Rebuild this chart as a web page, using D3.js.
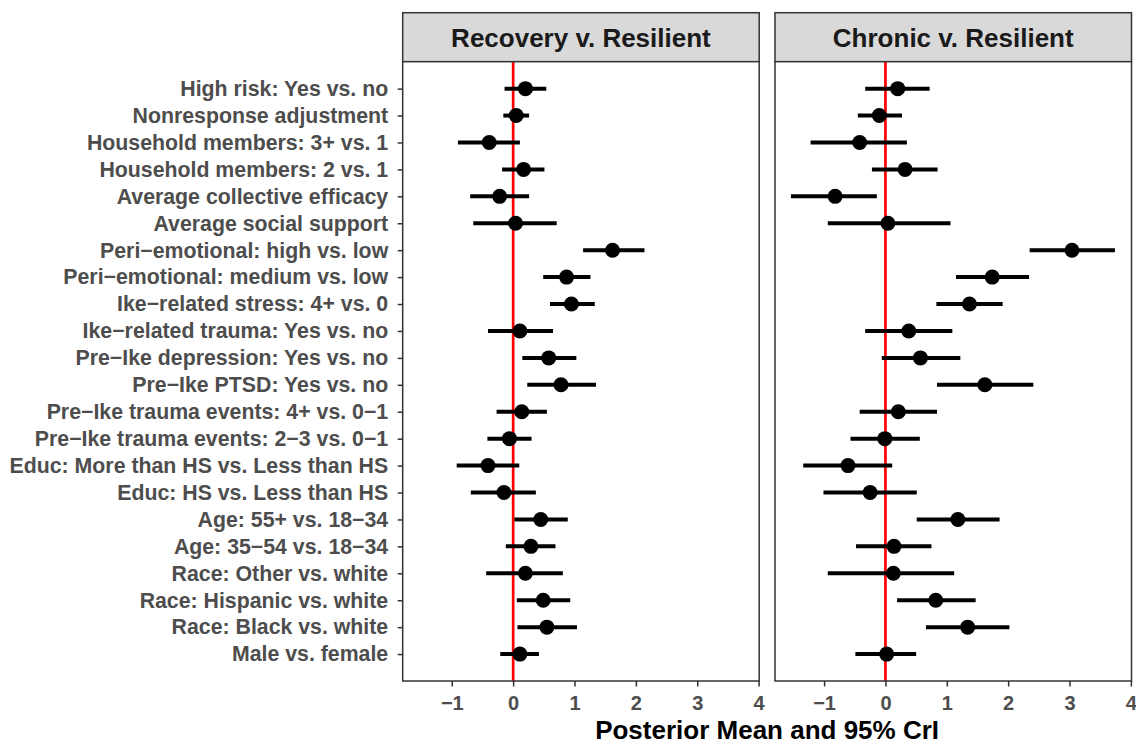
<!DOCTYPE html>
<html>
<head>
<meta charset="utf-8">
<script src="https://cdn.jsdelivr.net/npm/d3@7"></script>
<style>
  body { margin: 0; background: #fff; }
  svg text { font-family: "Liberation Sans", Arial, sans-serif; font-weight: bold; }
</style>
</head>
<body>
<div id="chart"></div>
<script>
// row labels, top to bottom
var labels = ["High risk: Yes vs. no", "Nonresponse adjustment", "Household members: 3+ vs. 1",
  "Household members: 2 vs. 1", "Average collective efficacy", "Average social support",
  "Peri\u2212emotional: high vs. low", "Peri\u2212emotional: medium vs. low", "Ike\u2212related stress: 4+ vs. 0",
  "Ike\u2212related trauma: Yes vs. no", "Pre\u2212Ike depression: Yes vs. no", "Pre\u2212Ike PTSD: Yes vs. no",
  "Pre\u2212Ike trauma events: 4+ vs. 0\u22121", "Pre\u2212Ike trauma events: 2\u22123 vs. 0\u22121",
  "Educ: More than HS vs. Less than HS", "Educ: HS vs. Less than HS", "Age: 55+ vs. 18\u221234",
  "Age: 35\u221254 vs. 18\u221234", "Race: Other vs. white", "Race: Hispanic vs. white",
  "Race: Black vs. white", "Male vs. female"];

var panels = ["Recovery v. Resilient", "Chronic v. Resilient"];

// Recovery v. Resilient
var recMean = [0.20, 0.05, -0.39, 0.17, -0.22, 0.04, 1.62, 0.87, 0.95, 0.11, 0.58, 0.78, 0.14, -0.06, -0.41, -0.15, 0.45, 0.29, 0.20, 0.49, 0.55, 0.11];
var recLo   = [-0.14, -0.16, -0.90, -0.18, -0.70, -0.65, 1.14, 0.49, 0.60, -0.41, 0.15, 0.23, -0.27, -0.42, -0.92, -0.69, 0.02, -0.12, -0.44, 0.06, 0.07, -0.21];
var recHi   = [0.54, 0.26, 0.11, 0.51, 0.26, 0.71, 2.14, 1.26, 1.33, 0.65, 1.03, 1.35, 0.55, 0.30, 0.10, 0.37, 0.89, 0.69, 0.81, 0.93, 1.04, 0.42];

// Chronic v. Resilient
var chrMean = [0.20, -0.10, -0.42, 0.32, -0.82, 0.04, 3.04, 1.74, 1.37, 0.38, 0.57, 1.62, 0.21, -0.01, -0.61, -0.25, 1.18, 0.14, 0.13, 0.82, 1.34, 0.02];
var chrLo   = [-0.33, -0.45, -1.22, -0.22, -1.54, -0.94, 2.35, 1.15, 0.83, -0.33, -0.06, 0.84, -0.42, -0.57, -1.34, -1.01, 0.51, -0.48, -0.94, 0.19, 0.66, -0.49];
var chrHi   = [0.72, 0.27, 0.35, 0.85, -0.14, 1.06, 3.74, 2.34, 1.91, 1.09, 1.22, 2.41, 0.84, 0.56, 0.11, 0.51, 1.86, 0.75, 1.12, 1.47, 2.02, 0.50];

var xTicks = [-1, 0, 1, 2, 3, 4];
var xTitle = "Posterior Mean and 95% CrI";

var width = 1136, height = 745;
var svg = d3.select("#chart").append("svg")
    .attr("width", width)
    .attr("height", height);

var panelLeft = [402.7, 775], panelW = 356.5;
var stripTop = 12.7, plotTop = 61.7, plotBottom = 681;

var y = d3.scalePoint()
    .domain(labels)
    .range([plotTop, plotBottom])
    .padding(1);

var series = [
  {mean: recMean, lo: recLo, hi: recHi},
  {mean: chrMean, lo: chrLo, hi: chrHi}
];

series.forEach(function(s, p) {
  var x = d3.scaleLinear().domain([-1.8, 4.01]).range([panelLeft[p], panelLeft[p] + panelW]);
  var g = svg.append("g");

  // strip
  g.append("rect")
    .attr("x", panelLeft[p]).attr("y", stripTop)
    .attr("width", panelW).attr("height", plotTop - stripTop)
    .style("fill", "#d9d9d9").style("stroke", "#333").style("stroke-width", 1.5);
  g.append("text")
    .attr("x", panelLeft[p] + panelW / 2).attr("y", (stripTop + plotTop) / 2)
    .attr("dy", ".36em")
    .style("text-anchor", "middle")
    .style("font-size", "26px")
    .style("fill", "#1a1a1a")
    .text(panels[p]);

  // panel background
  g.append("rect")
    .attr("x", panelLeft[p]).attr("y", plotTop)
    .attr("width", panelW).attr("height", plotBottom - plotTop)
    .style("fill", "#fff");

  // x axis
  var xa = g.append("g")
    .attr("transform", "translate(0," + plotBottom + ")")
    .call(d3.axisBottom(x).tickValues(xTicks).tickSize(5.5).tickPadding(9.5)
      .tickFormat(function(d) { return d < 0 ? "\u2212" + Math.abs(d) : d; }));
  xa.select(".domain").remove();
  xa.selectAll("line").style("stroke", "#333").style("stroke-width", 1.5);
  xa.selectAll("text").style("font-size", "20px").style("fill", "#4d4d4d")
    .style("font-family", "Liberation Sans, Arial, sans-serif").style("font-weight", "bold");

  // y axis labels only on the first panel
  if (p === 0) {
    var ya = g.append("g")
      .attr("transform", "translate(" + panelLeft[p] + ",0)")
      .call(d3.axisLeft(y).tickSize(5).tickPadding(9.5));
    ya.select(".domain").remove();
    ya.selectAll("line").style("stroke", "#333").style("stroke-width", 1.5);
    ya.selectAll("text").style("font-size", "21.3px").style("fill", "#4d4d4d")
      .style("font-family", "Liberation Sans, Arial, sans-serif").style("font-weight", "bold");
  }

  // zero line
  g.append("line")
    .attr("x1", x(0)).attr("x2", x(0))
    .attr("y1", plotTop).attr("y2", plotBottom)
    .style("stroke", "red").style("stroke-width", 2.7);

  // intervals
  g.selectAll(".ci")
    .data(labels)
    .enter().append("line")
    .attr("class", "ci")
    .attr("x1", function(d, i) { return x(s.lo[i]); })
    .attr("x2", function(d, i) { return x(s.hi[i]); })
    .attr("y1", function(d) { return y(d); })
    .attr("y2", function(d) { return y(d); })
    .style("stroke", "black").style("stroke-width", 4);

  g.selectAll(".pt")
    .data(labels)
    .enter().append("circle")
    .attr("class", "pt")
    .attr("cx", function(d, i) { return x(s.mean[i]); })
    .attr("cy", function(d) { return y(d); })
    .attr("r", 7.5)
    .style("fill", "black");

  // panel border
  g.append("rect")
    .attr("x", panelLeft[p]).attr("y", plotTop)
    .attr("width", panelW).attr("height", plotBottom - plotTop)
    .style("fill", "none").style("stroke", "#333").style("stroke-width", 1.5);
});

svg.append("text")
  .attr("x", (panelLeft[0] + panelLeft[1] + panelW) / 2)
  .attr("y", 739)
  .style("text-anchor", "middle")
  .style("font-size", "26px")
  .style("fill", "black")
  .text(xTitle);
</script>
</body>
</html>
